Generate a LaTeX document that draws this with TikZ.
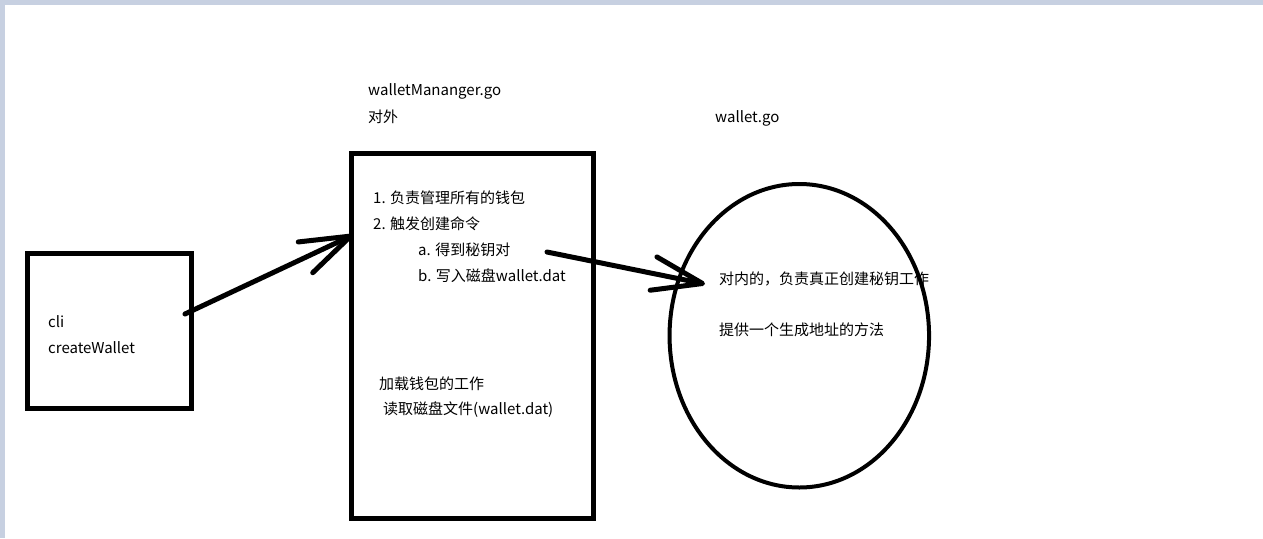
\documentclass[tikz,border=0pt]{standalone}
\usepackage{fontspec}
\setmainfont{Noto Sans CJK SC}
\usetikzlibrary{arrows.meta, positioning, shapes.geometric}
\definecolor{paintframe}{HTML}{C7D0E1}

\tikzset{
  paintbox/.style={draw, rectangle, line width=5pt, inner sep=0pt, outer sep=0pt},
  paintoval/.style={draw, ellipse, line width=4pt, inner sep=0pt, outer sep=0pt},
  painttext/.style={anchor=west, inner sep=0pt, font=\fontsize{15}{18}\selectfont},
  paintarrow/.style={line width=5pt, line cap=round, line join=round,
    -{Straight Barb[length=50pt,width=34pt,round]}},
}

\begin{document}
\begin{tikzpicture}[x=1pt,y=-1pt]
  \useasboundingbox (0,0) rectangle (1263,538);
  % window frame
  \fill[paintframe] (0,0) rectangle (1263,5);
  \fill[paintframe] (0,0) rectangle (5,538);

  \node[paintbox, minimum width=164pt, minimum height=154.5pt] (cli) at (109.5,330.75) {};
  \node[paintbox, minimum width=242pt, minimum height=364.5pt] (mgr) at (472.5,335.75) {};

  %\node at (109.5,330.75) {cli};
  \node[painttext] (clitxt) at (48,322) {cli};
  \node[painttext] (clicmd) at (48,348) {createWallet};

  \node[painttext] (mgrname) at (368,91) {walletMananger.go};
  \node[painttext] (mgrout) at (368,117) {对外};
  \node[painttext] (walname) at (715,118) {wallet.go};

  \node[painttext] (mgrone) at (373,198) {1. 负责管理所有的钱包};
  \node[painttext] (mgrtwo) at (373,224) {2. 触发创建命令};
  \node[painttext] (mgra) at (418,250) {a. 得到秘钥对};
  \node[painttext] (mgrb) at (418,276) {b. 写入磁盘wallet.dat};
  \node[painttext] (mgrload) at (379,384) {加载钱包的工作};
  \node[painttext] (mgrread) at (383,410) {读取磁盘文件(wallet.dat)};

  \node[painttext] (walin) at (719,279) {对内的，负责真正创建秘钥工作};
  \node[painttext] (waladdr) at (719,330) {提供一个生成地址的方法};
  \node[paintoval, minimum width=259.5pt, minimum height=303.5pt] (wal) at (799.3,335.75) {};

  % hand drawn arrows
  \coordinate (cliout) at (185,314);
  \coordinate (mgrin) at (353,235);
  \coordinate (mgrout2) at (547,252);
  \coordinate (walin2) at (705,284);
  \draw[paintarrow] (cliout) -- (mgrin);
  \draw[paintarrow] (mgrout2) -- (walin2);
\end{tikzpicture}
\end{document}
